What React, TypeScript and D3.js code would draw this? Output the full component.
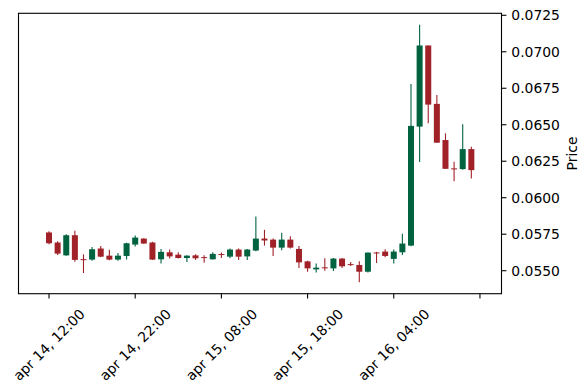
import * as d3 from "d3";
import { useRef, useEffect } from "react";

// hourly candles starting apr 14, 12:00
const opens = [
  0.05762, 0.05693, 0.05605, 0.05743, 0.05579, 0.05576, 0.05652, 0.05603, 0.05576, 0.05601,
  0.05679, 0.0572, 0.05693, 0.05578, 0.05626, 0.0561, 0.05587, 0.05605, 0.05593, 0.05578,
  0.05614, 0.05596, 0.05645, 0.05598, 0.05638, 0.0572, 0.05713, 0.05658, 0.05713, 0.05649,
  0.05564, 0.05509, 0.05523, 0.05516, 0.05583, 0.05545, 0.05539, 0.05493, 0.05625, 0.05631,
  0.05581, 0.05626, 0.05672, 0.06487, 0.07043, 0.06643, 0.06395, 0.06201, 0.06196, 0.06333,
];
const highs = [
  0.05771, 0.05702, 0.0575, 0.05773, 0.05612, 0.05663, 0.0567, 0.05643, 0.05622, 0.05691,
  0.05741, 0.05722, 0.05698, 0.05649, 0.05645, 0.05626, 0.05605, 0.05612, 0.05605, 0.05626,
  0.05624, 0.05652, 0.05652, 0.05649, 0.05872, 0.0578, 0.0572, 0.0576, 0.05736, 0.0567,
  0.05569, 0.0555, 0.05585, 0.05587, 0.05587, 0.0556, 0.05564, 0.05624, 0.05629, 0.05647,
  0.05645, 0.05753, 0.06779, 0.07185, 0.07043, 0.06703, 0.06441, 0.06246, 0.06503, 0.06349,
];
const lows = [
  0.05681, 0.05608, 0.05603, 0.05562, 0.05484, 0.05569, 0.05592, 0.05571, 0.05569, 0.05576,
  0.05665, 0.05684, 0.05573, 0.0555, 0.05583, 0.05583, 0.0556, 0.05574, 0.05555, 0.05576,
  0.05587, 0.05585, 0.05574, 0.05574, 0.05633, 0.05672, 0.05601, 0.0564, 0.05652, 0.05519,
  0.05493, 0.05488, 0.055, 0.05498, 0.05519, 0.05532, 0.0542, 0.05488, 0.05553, 0.05592,
  0.0555, 0.05608, 0.05667, 0.06244, 0.0651, 0.06377, 0.06198, 0.06113, 0.06191, 0.06132,
];
const closes = [
  0.05688, 0.05617, 0.05743, 0.05574, 0.05575, 0.05647, 0.05596, 0.05576, 0.05603, 0.05688,
  0.05727, 0.05686, 0.05576, 0.05629, 0.05598, 0.05587, 0.05603, 0.05585, 0.0559, 0.05615,
  0.05612, 0.05645, 0.05596, 0.05645, 0.0572, 0.05707, 0.05658, 0.05713, 0.05658, 0.05557,
  0.05516, 0.05521, 0.05521, 0.05583, 0.0553, 0.05542, 0.05493, 0.05624, 0.05623, 0.05601,
  0.05631, 0.05686, 0.06492, 0.07043, 0.06638, 0.06377, 0.06198, 0.06199, 0.06333, 0.06189,
];

const xTickIdx = [0, 10, 20, 30, 40, 50];
const xTickLabels = ["apr 14, 12:00", "apr 14, 22:00", "apr 15, 08:00", "apr 15, 18:00", "apr 16, 04:00", ""];
const yTicks = [0.055, 0.0575, 0.06, 0.0625, 0.065, 0.0675, 0.07, 0.0725];

function App() {
  const ref = useRef<SVGSVGElement>(null);
  const width = 588, height = 390;
  const margin = { left: 18.5, right: 86.5, top: 13.3, bottom: 96.3 };
  const upColor = "#006340", downColor = "#a02128";
  const fontSize = "13.9px";

  useEffect(() => {
    const svg = d3.select(ref.current);
    svg.selectAll("*").remove();

    const x = d3.scaleLinear().domain([-3.54, 52.5]).range([margin.left, width - margin.right]);
    const y = d3.scaleLinear().domain([0.053424, 0.072635]).range([height - margin.bottom, margin.top]);

    const data = opens.map((o, i) => ({ i, o, h: highs[i], l: lows[i], c: closes[i] }));
    const bw = 6;

    const g = svg.append("g");
    // wicks
    g.selectAll("line.wick")
      .data(data)
      .join("line")
      .attr("x1", d => x(d.i))
      .attr("x2", d => x(d.i))
      .attr("y1", d => y(d.h))
      .attr("y2", d => y(d.l))
      .attr("stroke", d => (d.c >= d.o ? upColor : downColor))
      .attr("stroke-width", 1.1);
    // bodies
    g.selectAll("rect.body")
      .data(data)
      .join("rect")
      .attr("x", d => x(d.i) - bw / 2)
      .attr("width", bw)
      .attr("y", d => y(Math.max(d.o, d.c)))
      .attr("height", d => Math.max(1, Math.abs(y(d.o) - y(d.c))))
      .attr("fill", d => (d.c >= d.o ? upColor : downColor));

    // frame
    svg.append("rect")
      .attr("x", margin.left)
      .attr("y", margin.top)
      .attr("width", width - margin.left - margin.right)
      .attr("height", height - margin.top - margin.bottom)
      .attr("fill", "none")
      .attr("stroke", "black")
      .attr("stroke-width", 1.1);

    // x axis ticks
    const xb = height - margin.bottom;
    xTickIdx.forEach((t, k) => {
      svg.append("line")
        .attr("x1", x(t)).attr("x2", x(t))
        .attr("y1", xb).attr("y2", xb + 4.9)
        .attr("stroke", "black").attr("stroke-width", 1.1);
      if (xTickLabels[k]) {
        svg.append("text")
          .attr("transform", `translate(${x(t)},${xb + 51}) rotate(-45)`)
          .attr("text-anchor", "middle")
          .attr("dominant-baseline", "central")
          .style("font-family", "DejaVu Sans")
          .style("font-size", fontSize)
          .text(xTickLabels[k]);
      }
    });

    // y axis on the right
    const xr = width - margin.right;
    yTicks.forEach(t => {
      svg.append("line")
        .attr("x1", xr).attr("x2", xr + 4.9)
        .attr("y1", y(t)).attr("y2", y(t))
        .attr("stroke", "black").attr("stroke-width", 1.1);
      svg.append("text")
        .attr("x", xr + 9.8)
        .attr("y", y(t))
        .attr("dominant-baseline", "central")
        .style("font-family", "DejaVu Sans")
        .style("font-size", fontSize)
        .text(t.toFixed(4));
    });

    svg.append("text")
      .attr("transform", `translate(572,${(margin.top + height - margin.bottom) / 2}) rotate(-90)`)
      .attr("text-anchor", "middle")
      .attr("dominant-baseline", "central")
      .style("font-family", "DejaVu Sans")
      .style("font-size", fontSize)
      .text("Price");
  });

  return (
    <svg
      ref={ref}
      width={width}
      height={height}
      style={{ position: "absolute", left: 0, top: 0, background: "white" }}
    />
  );
}

export default App;
